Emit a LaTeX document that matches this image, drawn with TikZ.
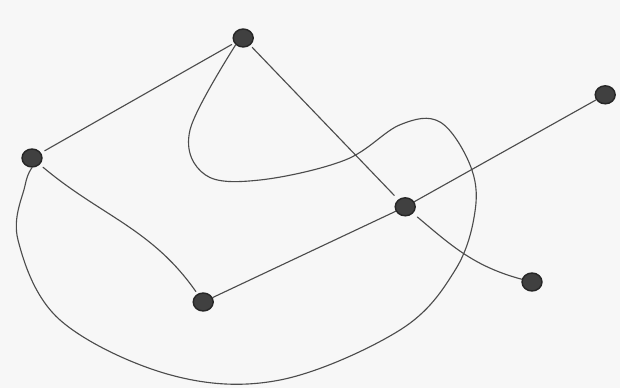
\documentclass[tikz,border=0pt]{standalone}
\usepackage{tikz}
\usetikzlibrary{arrows.meta,shapes}
\tikzset{vertex/.style={ellipse,fill=black!75,draw=black!85,line width=1pt,minimum width=0.5cm,minimum height=0.45cm,inner sep=0pt},
edge/.style={black!70,line width=0.8pt,line cap=round}}
\begin{document}
\begin{tikzpicture}
\fill[black!3](0,0)rectangle(15.5,9.7);
\useasboundingbox(0,0)rectangle(15.5,9.7);
\node[vertex](A)at(6.08,8.75){};
\node[vertex](B)at(0.8,5.75){};
\node[vertex](C)at(5.08,2.15){};
\node[vertex](D)at(10.13,4.53){};
\node[vertex](E)at(15.13,7.33){};
\node[vertex](F)at(13.3,2.65){};
\draw[edge,shorten <=2pt,shorten >=3pt](A)--(B);
\draw[edge,shorten <=3pt,shorten >=2pt](B)to[out=-40,in=125](C);
\draw[edge](C)--(D);
\draw[edge](D)--(E);
\draw[edge,shorten <=4pt](D)to[out=-40,in=165](F);
\draw[edge,shorten <=2pt,shorten >=4pt](A)--(D);
% long loop from A round to B
\draw[edge]plot[smooth,tension=0.6]coordinates{(A.south west)(4.75,6.45)(5.13,5.33)(6.5,5.2)(8.63,5.7)(10,6.58)(11,6.65)(11.75,5.58)(11.88,4.45)(11.38,2.95)(10,1.45)(7,0.2)(4.25,0.33)(1.5,1.7)(0.45,3.7)(0.63,5.08)(B.south)};
\end{tikzpicture}
\end{document}
